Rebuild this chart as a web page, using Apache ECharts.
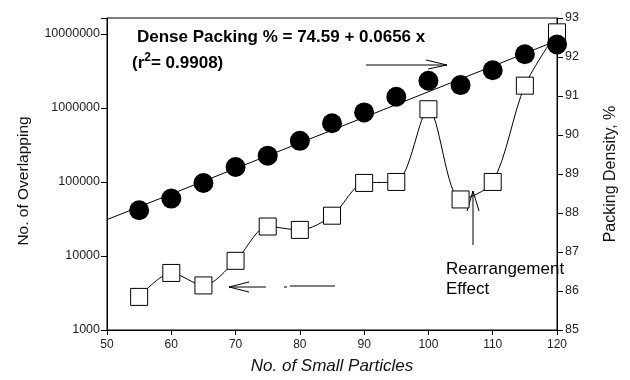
<!DOCTYPE html>
<html><head><meta charset="utf-8">
<script src="https://cdn.jsdelivr.net/npm/echarts@6/dist/echarts.min.js"></script>
<style>html,body{margin:0;padding:0;background:#fff}#c{width:630px;height:380px}</style>
</head><body><div id="c"></div>
<script>
// ---- data ----
const particles = [55, 60, 65, 70, 75, 80, 85, 90, 95, 100, 105, 110, 115, 120];
const overlapping = [2800, 5900, 4000, 8600, 25000, 22500, 35000, 97000, 100000, 960000, 58000, 100000, 2000000, 10500000];
const packingDensity = [88.07, 88.37, 88.77, 89.18, 89.47, 89.85, 90.3, 90.58, 90.98, 91.39, 91.28, 91.66, 92.07, 92.32];
const fitX = [50, 120];
const fitY = [87.83, 92.42];
const xRange = [50, 120];
const leftRange = [1000, 16400000];
const rightRange = [85, 93];

const FONT = 'Liberation Sans, Arial, sans-serif';
const chart = echarts.init(document.getElementById('c'), null, {renderer: 'canvas'});

const axisCommon = {
  axisLine: {show: true, onZero: false, lineStyle: {color: '#000', width: 1}},
  axisTick: {show: true, inside: false, length: 5, lineStyle: {color: '#000'}},
  splitLine: {show: false},
  axisLabel: {color: '#222', fontFamily: FONT, fontSize: 12}
};

const option = {
  animation: false,
  backgroundColor: '#fff',
  grid: {left: 107, right: 73, top: 18, bottom: 50, show: true, borderColor: '#000', borderWidth: 1, backgroundColor: 'transparent'},
  xAxis: Object.assign({}, axisCommon, {
    type: 'value', min: xRange[0], max: xRange[1], interval: 10,
    name: 'No. of Small Particles', nameLocation: 'middle', nameGap: 28,
    nameTextStyle: {fontFamily: FONT, fontSize: 17, fontStyle: 'italic', color: '#111'},
    axisLabel: {color: '#222', fontFamily: FONT, fontSize: 12, margin: 9}
  }),
  yAxis: [
    Object.assign({}, axisCommon, {
      type: 'log', logBase: 10, min: leftRange[0], max: leftRange[1], position: 'left',
      name: 'No. of Overlapping', nameLocation: 'middle', nameGap: 75, nameRotate: 90,
      nameTextStyle: {fontFamily: FONT, fontSize: 15.5, color: '#111', padding: [0, 14, 0, 0]},
      minorTick: {show: false},
      axisTick: {show: true, inside: false, length: 6, lineStyle: {color: '#000'}},
      axisLabel: {color: '#222', fontFamily: FONT, fontSize: 12.5, margin: 7,
        formatter: function (v) {
          const l = Math.log10(v);
          return Math.abs(l - Math.round(l)) < 1e-6 ? String(Math.round(v)) : '';
        }}
    }),
    Object.assign({}, axisCommon, {
      type: 'value', min: rightRange[0], max: rightRange[1], interval: 1, position: 'right',
      name: 'Packing Density, %', nameLocation: 'middle', nameGap: 46, nameRotate: 90,
      nameTextStyle: {fontFamily: FONT, fontSize: 16, color: '#111'},
      axisTick: {show: true, inside: false, length: 6, lineStyle: {color: '#000'}},
      axisLabel: {color: '#222', fontFamily: FONT, fontSize: 12.5, margin: 8}
    })
  ],
  series: [
    {
      type: 'line', yAxisIndex: 0, smooth: 0.3,
      data: particles.map((x, i) => [x, overlapping[i]]),
      symbol: 'rect', symbolSize: 17, showAllSymbol: true,
      itemStyle: {color: '#fff', borderColor: '#000', borderWidth: 1},
      lineStyle: {color: '#000', width: 1}, z: 2
    },
    {
      type: 'line', yAxisIndex: 1, showSymbol: false,
      data: fitX.map((x, i) => [x, fitY[i]]),
      lineStyle: {color: '#000', width: 1}, z: 3
    },
    {
      type: 'scatter', yAxisIndex: 1,
      data: particles.map((x, i) => [x, packingDensity[i]]),
      symbol: 'circle', symbolSize: 20,
      itemStyle: {color: '#000', opacity: 1}, z: 4
    }
  ],
  graphic: [
    {type: 'text', x: 137, y: 37, style: {text: 'Dense Packing % = 74.59 + 0.0656 x', font: 'bold 17px ' + FONT, fill: '#000', textVerticalAlign: 'middle'}},
    {type: 'text', x: 132, y: 63, style: {
      text: '{a|(r}{s|2}{a|= 0.9908)}', fill: '#000', textVerticalAlign: 'middle',
      rich: {a: {fontFamily: FONT, fontWeight: 'bold', fontSize: 17, lineHeight: 22},
             s: {fontFamily: FONT, fontWeight: 'bold', fontSize: 12, lineHeight: 12, verticalAlign: 'top'}}
    }},
    // right-pointing arrow (circles -> right axis)
    {type: 'polyline', shape: {points: [[366, 65], [447, 65]]}, style: {stroke: '#000', lineWidth: 1, fill: null}},
    {type: 'polyline', shape: {points: [[426, 60], [447, 65], [428, 69]]}, style: {stroke: '#000', lineWidth: 1, fill: null}},
    // left-pointing arrow (squares -> left axis)
    {type: 'polyline', shape: {points: [[229, 287], [266, 287]]}, style: {stroke: '#000', lineWidth: 1, fill: null}},
    {type: 'polyline', shape: {points: [[284, 287], [287, 287]]}, style: {stroke: '#000', lineWidth: 1, fill: null}},
    {type: 'polyline', shape: {points: [[290, 286], [335, 286]]}, style: {stroke: '#000', lineWidth: 1, fill: null}},
    {type: 'polyline', shape: {points: [[249, 282], [229, 287], [249, 292]]}, style: {stroke: '#000', lineWidth: 1, fill: null}},
    // rearrangement arrow
    {type: 'polyline', shape: {points: [[473, 245], [473, 191]]}, style: {stroke: '#000', lineWidth: 1, fill: null}},
    {type: 'polyline', shape: {points: [[467, 211], [473, 191], [479, 211]]}, style: {stroke: '#000', lineWidth: 1, fill: null}},
    {type: 'text', x: 446, y: 269, style: {text: 'Rearrangement', font: '17px ' + FONT, fill: '#000', textVerticalAlign: 'middle'}},
    {type: 'text', x: 446, y: 289, style: {text: 'Effect', font: '17px ' + FONT, fill: '#000', textVerticalAlign: 'middle'}}
  ]
};
chart.setOption(option);
</script></body></html>
